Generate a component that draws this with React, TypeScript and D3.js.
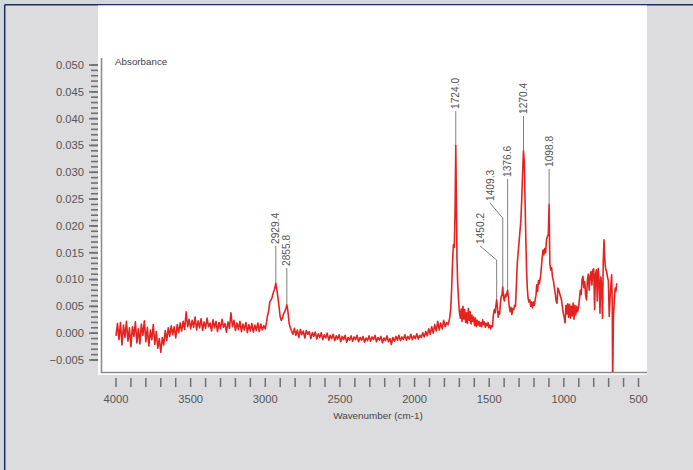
import React from "react";
import * as d3 from "d3";

// [wavenumber (cm-1), absorbance]
const ohRegion: [number, number][] = [
  [4000, -0.0005], [3990, 0.0018], [3980, -0.0012], [3970, 0.002], [3960, -0.0022],
  [3950, 0.0015], [3940, -0.0008], [3930, 0.0022], [3920, -0.0015], [3910, 0.001],
  [3900, -0.0025], [3890, 0.0012], [3880, -0.0006], [3870, 0.0021], [3860, -0.0018],
  [3850, 0.0008], [3840, -0.002], [3830, 0.0017], [3820, -0.0004], [3810, 0.0023],
  [3800, -0.0016], [3790, 0.0011], [3780, -0.0024], [3770, 0.0006], [3760, -0.0012],
  [3750, 0.0016], [3740, -0.0021], [3730, 0.0003], [3720, -0.0028], [3710, -0.001],
  [3700, -0.0036], [3690, -0.0008], [3680, -0.0022], [3670, 0.0005], [3660, -0.0014],
  [3650, 0.001], [3640, -0.0006], [3630, 0.0014], [3620, -0.0003], [3610, 0.0012],
  [3600, -0.0009], [3590, 0.0016], [3580, 0.0001], [3570, 0.0019], [3560, 0.0004],
  [3550, 0.0022], [3540, 0.0007], [3530, 0.004], [3520, 0.0012], [3510, 0.0026],
  [3500, 0.0008], [3490, 0.0024], [3480, 0.0011], [3470, 0.003], [3460, 0.0006],
  [3450, 0.0023], [3440, 0.001], [3430, 0.0027], [3420, 0.0005], [3410, 0.0021],
  [3400, 0.0009], [3390, 0.0028], [3380, 0.0012], [3370, 0.0019], [3360, 0.0004],
  [3350, 0.0025], [3340, 0.001], [3330, 0.0022], [3320, 0.0003], [3310, 0.002],
  [3300, 0.0008], [3290, 0.0026], [3280, 0.0011], [3270, 0.0018], [3260, 0.0002],
  [3250, 0.0021], [3240, 0.0009], [3230, 0.0038], [3220, 0.0012], [3210, 0.0024],
  [3200, 0.0005], [3190, 0.0019], [3180, 0.0007], [3170, 0.0022], [3160, 0.0003],
  [3150, 0.0017], [3140, 0.0006], [3130, 0.002], [3120, 0.0001], [3110, 0.0016],
  [3100, 0.0004], [3090, 0.0018], [3080, 0.0002], [3070, 0.0015], [3060, 0.0005],
  [3050, 0.0019], [3040, 0.0003], [3030, 0.0017], [3020, 0.0006], [3010, 0.0014],
  [3000, 0.0008],
];

const chRegion: [number, number][] = [
  [2992, 0.002], [2985, 0.0033], [2978, 0.004], [2970, 0.0058], [2962, 0.0062],
  [2955, 0.0066], [2946, 0.0076], [2938, 0.0082], [2929.4, 0.0093], [2922, 0.008],
  [2915, 0.0066], [2908, 0.005], [2900, 0.003], [2893, 0.0024], [2886, 0.0028],
  [2878, 0.0036], [2870, 0.004], [2862, 0.0046], [2855.8, 0.0053], [2848, 0.004],
  [2840, 0.0018], [2832, 0.001], [2824, 0.0004],
];

const baseline: [number, number][] = [
  [2815, -0.0002], [2805, 0.0009], [2795, -0.0004], [2785, 0.0006], [2775, -0.0008],
  [2765, 0.0007], [2755, -0.0003], [2745, 0.0004], [2735, -0.0009], [2725, 0.0005],
  [2715, -0.0002], [2705, 0.0003], [2695, -0.001], [2685, 0.0001], [2675, -0.0006],
  [2665, 0.0002], [2655, -0.0011], [2645, -0.0001], [2635, -0.0008], [2625, 0.0001],
  [2615, -0.0012], [2605, -0.0003], [2595, -0.0009], [2585, 0.0], [2575, -0.0013],
  [2565, -0.0004], [2555, -0.001], [2545, -0.0002], [2535, -0.0014], [2525, -0.0005],
  [2515, -0.0011], [2505, -0.0003], [2495, -0.0016], [2485, -0.0006], [2475, -0.0012],
  [2465, -0.0004], [2455, -0.0017], [2445, -0.0008], [2435, -0.0013], [2425, -0.0005],
  [2415, -0.0015], [2405, -0.0007], [2395, -0.0012], [2385, -0.0004], [2375, -0.0016],
  [2365, -0.0008], [2355, -0.0013], [2345, -0.0006], [2335, -0.0017], [2325, -0.0009],
  [2315, -0.0014], [2305, -0.0005], [2295, -0.0015], [2285, -0.0007], [2275, -0.0012],
  [2265, -0.0004], [2255, -0.0016], [2245, -0.0008], [2235, -0.0013], [2225, -0.0006],
  [2215, -0.0018], [2205, -0.0009], [2195, -0.0014], [2185, -0.0005], [2175, -0.0016],
  [2165, -0.001], [2155, -0.0021], [2145, -0.0008], [2135, -0.0015], [2125, -0.0006],
  [2115, -0.0013], [2105, -0.0004], [2095, -0.0014], [2085, -0.0007], [2075, -0.0012],
  [2065, -0.0003], [2055, -0.0013], [2045, -0.0006], [2035, -0.0011], [2025, -0.0002],
  [2015, -0.0012], [2005, -0.0005], [1995, -0.001], [1985, -0.0001], [1975, -0.0011],
  [1965, -0.0004], [1955, -0.0008], [1945, 0.0001], [1935, -0.0007], [1925, 0.0003],
  [1915, -0.0005], [1905, 0.0008], [1895, -0.0002], [1885, 0.0012], [1875, 0.0],
  [1865, 0.0016], [1855, 0.0004], [1845, 0.0022], [1835, 0.0006], [1825, 0.0019],
  [1815, 0.0008], [1805, 0.0024], [1795, 0.0012], [1785, 0.002], [1775, 0.0016],
  [1765, 0.0028],
];

const fingerprint: [number, number][] = [
  [1758, 0.0045], [1752, 0.008], [1746, 0.013], [1740, 0.0165], [1734, 0.016],
  [1728, 0.024], [1724, 0.035], [1720, 0.025], [1716, 0.014], [1711, 0.009],
  [1706, 0.0065], [1700, 0.004], [1694, 0.0028], [1688, 0.0045], [1682, 0.0022],
  [1676, 0.005], [1670, 0.0026], [1664, 0.0044], [1658, 0.002], [1652, 0.0038],
  [1646, 0.0018], [1640, 0.0046], [1634, 0.0024], [1628, 0.004], [1622, 0.0017],
  [1616, 0.0034], [1610, 0.0022], [1604, 0.003], [1598, 0.0014], [1592, 0.0028],
  [1586, 0.0012], [1580, 0.0024], [1574, 0.0015], [1568, 0.0022], [1562, 0.0013],
  [1556, 0.002], [1550, 0.0012], [1544, 0.0025], [1538, 0.0016], [1532, 0.0021],
  [1526, 0.0011], [1520, 0.0018], [1514, 0.0014], [1508, 0.002], [1502, 0.001],
  [1496, 0.0015], [1490, 0.0008], [1484, 0.0014], [1478, 0.0012], [1472, 0.0035],
  [1466, 0.0044], [1460, 0.0038], [1455, 0.0052], [1450.2, 0.0062], [1445, 0.0048],
  [1440, 0.003], [1435, 0.004], [1430, 0.0036], [1425, 0.0055], [1420, 0.0068],
  [1414, 0.0072], [1409.3, 0.0086], [1404, 0.0066], [1398, 0.006], [1392, 0.0072],
  [1387, 0.0068], [1381, 0.0076], [1376.6, 0.008], [1372, 0.0068], [1366, 0.005],
  [1360, 0.004], [1354, 0.0048], [1348, 0.0035], [1342, 0.0046], [1336, 0.0044],
  [1330, 0.0052], [1324, 0.005], [1318, 0.009], [1312, 0.013], [1306, 0.015],
  [1300, 0.017], [1294, 0.019], [1288, 0.021], [1282, 0.025], [1276, 0.03],
  [1270.4, 0.034], [1265, 0.032], [1260, 0.025], [1255, 0.018], [1250, 0.012],
  [1245, 0.0085], [1240, 0.0066], [1234, 0.0058], [1228, 0.0062], [1222, 0.005],
  [1216, 0.0058], [1210, 0.0047], [1204, 0.0058], [1198, 0.0052], [1192, 0.0062],
  [1186, 0.0072], [1182, 0.009], [1176, 0.0078], [1170, 0.0098], [1164, 0.0092],
  [1158, 0.0102], [1152, 0.0118], [1146, 0.0138], [1140, 0.0155], [1134, 0.0146],
  [1128, 0.0158], [1122, 0.015], [1116, 0.0175], [1110, 0.018], [1104, 0.0185],
  [1098.8, 0.024], [1094, 0.013], [1088, 0.0118], [1082, 0.0122], [1076, 0.0104],
  [1070, 0.0098], [1064, 0.0086], [1058, 0.0074], [1052, 0.006], [1046, 0.0056],
  [1040, 0.0084], [1034, 0.008], [1028, 0.0074], [1022, 0.0068], [1016, 0.0062],
  [1010, 0.005], [1004, 0.0037], [998, 0.003], [992, 0.0019], [986, 0.0052],
  [980, 0.0036], [974, 0.0055], [968, 0.003], [962, 0.0054], [956, 0.0028],
  [950, 0.005], [944, 0.0032], [938, 0.0056], [932, 0.0026], [926, 0.0052],
  [920, 0.0034], [914, 0.005], [908, 0.004], [902, 0.0047], [896, 0.0062],
  [890, 0.008], [884, 0.0072], [878, 0.01], [872, 0.0106], [866, 0.0085],
  [860, 0.0096], [854, 0.007], [848, 0.0062], [842, 0.01], [836, 0.011],
  [830, 0.008], [824, 0.0105], [818, 0.0115], [812, 0.009], [806, 0.0118],
  [800, 0.012], [794, 0.0044], [788, 0.011], [782, 0.0118], [776, 0.006],
  [770, 0.0121], [764, 0.01], [758, 0.0037], [752, 0.0105], [746, 0.0085],
  [741, 0.0028], [736, 0.0134], [731, 0.0174], [726, 0.014], [722, 0.0124],
  [718, 0.0118], [714, 0.0115], [708, 0.0105], [702, 0.0098], [696, 0.0031],
  [690, 0.0068], [685, 0.009], [680, 0.0109], [676, 0.006], [673, -0.0095],
  [668, 0.003], [664, 0.005], [660, 0.007], [656, 0.0084], [651, 0.0078],
  [646, 0.0093],
];

const yMajorTicks = [-0.005, 0, 0.005, 0.01, 0.015, 0.02, 0.025, 0.03, 0.035, 0.04, 0.045, 0.05];
const xMajorTicks = [4000, 3500, 3000, 2500, 2000, 1500, 1000, 500];

// peak labels: text bottom y and optional bent leader
const peaks = [
  { wn: 2929.4, label: "2929.4", textBottom: 244, textX: null as number | null, bendY: null as number | null },
  { wn: 2855.8, label: "2855.8", textBottom: 266, textX: null, bendY: null },
  { wn: 1724.0, label: "1724.0", textBottom: 109, textX: null, bendY: null },
  { wn: 1450.2, label: "1450.2", textBottom: 244, textX: 480, bendY: 260 },
  { wn: 1409.3, label: "1409.3", textBottom: 201, textX: 490, bendY: 218 },
  { wn: 1376.6, label: "1376.6", textBottom: 177, textX: null, bendY: null },
  { wn: 1270.4, label: "1270.4", textBottom: 114, textX: null, bendY: null },
  { wn: 1098.8, label: "1098.8", textBottom: 167, textX: null, bendY: null },
];

const W = 693;
const H = 470;
const font = "'Liberation Sans', Arial, Helvetica, sans-serif";

export default function App() {
  const spectrum = [...ohRegion, ...chRegion, ...baseline, ...fingerprint];
  const x = d3.scaleLinear().domain([4000, 500]).range([116, 638.5]);
  const y = d3.scaleLinear().domain([-0.005, 0.05]).range([360, 65]);
  const path = d3
    .line<[number, number]>()
    .x((d) => x(d[0]))
    .y((d) => y(d[1]))(spectrum);

  const yMinor = d3.range(-5, 51).map((i) => i / 1000);
  const xMinor = d3.range(500, 4001, 100);
  const fmt = d3.format(".3f");
  const peakValue = (wn: number) => spectrum.find((d) => d[0] === wn)![1];

  const tickColor = "#707070";
  const textColor = "#555";

  return (
    <div style={{ position: "absolute", left: 0, top: 0 }}>
      <svg width={W} height={H} style={{ display: "block" }}>
        <defs>
          <clipPath id="plotClip">
            <rect x={102} y={6} width={545} height={366} />
          </clipPath>
        </defs>
        <rect x={0} y={0} width={W} height={H} fill="#dcdcde" />
        <rect x={0} y={0} width={W} height={5} fill="#d3d7de" />
        <rect x={0} y={0} width={5} height={H} fill="#d3d7de" />
        <line x1={4.7} y1={4.7} x2={W} y2={4.7} stroke="#1d2f5c" strokeWidth={1.5} />
        <line x1={4.7} y1={4.7} x2={4.7} y2={H} stroke="#1d2f5c" strokeWidth={1.5} />

        <rect x={98} y={5.5} width={549} height={369.5} fill="#fff" />

        {/* y ticks */}
        {yMinor.map((v) => (
          <line key={"ym" + v} x1={91} x2={98} y1={y(v)} y2={y(v)} stroke={tickColor} strokeWidth={1.6} />
        ))}
        {yMajorTicks.map((v) => (
          <g key={"yM" + v}>
            <line x1={89} x2={98} y1={y(v)} y2={y(v)} stroke={tickColor} strokeWidth={1.6} />
            <text x={84} y={y(v)} dy="0.35em" textAnchor="end" fontSize={11.2} fontFamily={font} fill={textColor}>
              {fmt(v)}
            </text>
          </g>
        ))}

        {/* x ticks */}
        {xMinor.map((v) => (
          <line key={"xm" + v} x1={x(v)} x2={x(v)} y1={378} y2={387} stroke={tickColor} strokeWidth={1.5} />
        ))}
        {xMajorTicks.map((v) => (
          <text key={"xM" + v} x={x(v)} y={399} dy="0.35em" textAnchor="middle" fontSize={11.2} fontFamily={font} fill={textColor}>
            {v}
          </text>
        ))}

        {/* axis lines */}
        <line x1={101.5} x2={101.5} y1={58} y2={373} stroke="#8c8c8c" strokeWidth={1.6} />
        <line x1={101} x2={647} y1={372.5} y2={372.5} stroke="#8c8c8c" strokeWidth={1.6} />

        <text x={115} y={62} dy="0.35em" fontSize={9.8} fontFamily={font} fill="#444">
          Absorbance
        </text>
        <text x={378} y={416} dy="0.35em" textAnchor="middle" fontSize={9.9} fontFamily={font} fill="#444">
          Wavenumber (cm-1)
        </text>

        {/* peak annotations */}
        {peaks.map((p) => {
          const px = x(p.wn);
          const py = y(peakValue(p.wn));
          const tx = p.textX ?? px;
          const leader =
            p.bendY != null
              ? `M${tx},${p.textBottom + 2}L${px},${p.bendY}L${px},${py}`
              : `M${px},${p.textBottom + 2}L${px},${py}`;
          return (
            <g key={p.label}>
              <path d={leader} fill="none" stroke="#808080" strokeWidth={1} />
              <text
                transform={`translate(${tx},${p.textBottom}) rotate(-90)`}
                dy="0.35em"
                fontSize={10.2}
                fontFamily={font}
                fill={textColor}
              >
                {p.label}
              </text>
            </g>
          );
        })}

        <path
          d={path ?? ""}
          fill="none"
          stroke="#e62220"
          strokeWidth={1.6}
          strokeLinejoin="round"
          clipPath="url(#plotClip)"
        />
      </svg>
    </div>
  );
}
